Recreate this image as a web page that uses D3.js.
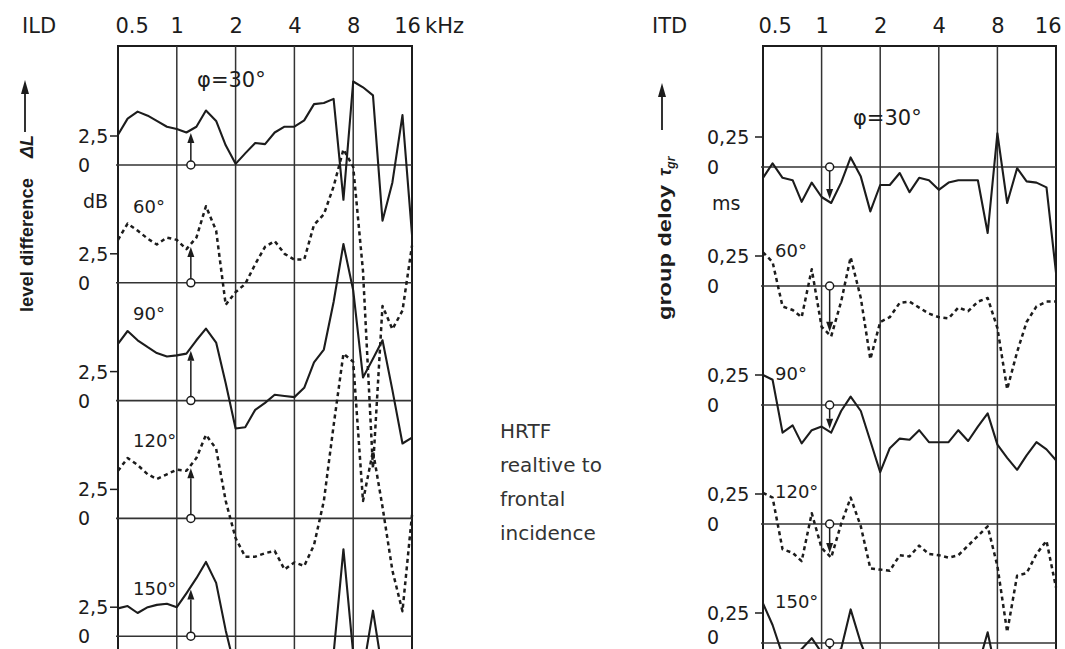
<!doctype html>
<html>
<head>
<meta charset="utf-8">
<script src="https://d3js.org/d3.v7.min.js"></script>
<style>
  body { margin: 0; background: #fff; }
  text { font-family: "DejaVu Sans", "Liberation Sans", Arial, sans-serif; fill: #1c1c1c; }
  text.rot { font-family: "Liberation Sans", Arial, sans-serif; }
</style>
</head>
<body>
<svg id="chart" width="1065" height="649"></svg>
<script>
// 1/6-octave measurement frequencies (kHz)
var freqs = [0.5, 0.56, 0.63, 0.71, 0.79, 0.89, 1.0, 1.12, 1.26, 1.41, 1.59, 1.78, 2.0, 2.24, 2.52, 2.83,
             3.17, 3.56, 4.0, 4.49, 5.04, 5.66, 6.35, 7.13, 8.0, 8.98, 10.1, 11.3, 12.7, 14.3, 16.0];
var octaveTicks = [0.5, 1, 2, 4, 8, 16];
var angles = ["30°", "60°", "90°", "120°", "150°"];

// ILD, dB
var ild30  = [2.6, 4.0, 4.6, 4.25, 3.8, 3.3, 3.1, 2.8, 3.3, 4.7, 3.8, 1.7, 0.1, 1.0, 1.9, 1.8, 2.8, 3.3, 3.3, 3.85, 5.25, 5.35, 5.7, -3.0, 7.2, 6.7, 6.0, -4.8, -1.5, 4.3, -6.0];
var ild60  = [3.7, 5.1, 4.5, 3.8, 3.3, 3.9, 3.7, 2.9, 3.9, 6.6, 4.5, -1.9, -0.8, -0.1, 1.6, 3.1, 3.6, 2.5, 2.0, 2.0, 5.0, 5.9, 8.3, 11.5, 10.0, 1.0, -16.0, -2.0, -4.0, -2.4, 3.2];
var ild90  = [4.9, 6.0, 5.2, 4.6, 4.1, 3.8, 3.9, 4.05, 5.2, 6.2, 5.0, 1.5, -2.4, -2.3, -0.8, -0.2, 0.5, 0.4, 0.3, 1.1, 3.3, 4.4, 8.5, 13.5, 9.5, 2.0, 3.6, 5.2, 0.9, -3.7, -3.2];
var ild120 = [4.1, 5.2, 4.6, 3.8, 3.4, 3.8, 4.2, 4.1, 5.2, 7.2, 6.0, 1.5, -1.7, -3.3, -3.3, -3.0, -2.8, -4.4, -3.8, -4.1, -2.3, 1.5, 8.0, 14.2, 13.5, 1.5, 5.8, 1.0, -4.5, -8.0, 0.3];
var ild150 = [2.4, 2.6, 2.0, 2.5, 2.7, 2.8, 2.5, 3.7, 5.0, 6.4, 4.6, 0.5, -3.0, -5.0, -5.0, -5.0, -5.0, -5.0, -5.0, -5.0, -5.0, -4.0, -1.5, 7.5, -1.5, -3.0, 2.2, -3.0, -4.0, -4.0, -3.0];

// ITD (group delay), ms
var itd30  = [-0.09, 0.03, -0.09, -0.11, -0.29, -0.13, -0.25, -0.30, -0.13, 0.08, -0.08, -0.37, -0.15, -0.15, -0.05, -0.21, -0.09, -0.11, -0.19, -0.13, -0.11, -0.11, -0.11, -0.55, 0.28, -0.30, -0.01, -0.12, -0.13, -0.17, -0.88];
var itd60  = [0.28, 0.20, -0.17, -0.20, -0.26, 0.14, -0.34, -0.42, -0.13, 0.24, -0.10, -0.61, -0.30, -0.26, -0.14, -0.13, -0.18, -0.23, -0.26, -0.27, -0.18, -0.21, -0.13, -0.10, -0.35, -0.86, -0.55, -0.30, -0.17, -0.13, -0.13];
var itd90  = [0.25, 0.21, -0.23, -0.17, -0.32, -0.21, -0.18, -0.23, -0.05, 0.07, -0.05, -0.30, -0.56, -0.36, -0.28, -0.29, -0.21, -0.31, -0.31, -0.31, -0.21, -0.30, -0.18, -0.07, -0.33, -0.44, -0.54, -0.42, -0.31, -0.37, -0.46];
var itd120 = [0.26, 0.22, -0.21, -0.24, -0.31, 0.09, -0.20, -0.28, 0.0, 0.22, -0.02, -0.37, -0.38, -0.39, -0.26, -0.27, -0.18, -0.25, -0.26, -0.28, -0.26, -0.18, -0.10, -0.02, -0.35, -0.90, -0.43, -0.41, -0.25, -0.14, -0.53];
var itd150 = [0.33, 0.15, -0.10, -0.10, -0.05, 0.04, -0.08, -0.10, -0.05, 0.28, 0.0, -0.20, -0.30, -0.30, -0.30, -0.30, -0.30, -0.30, -0.30, -0.30, -0.30, -0.30, -0.20, 0.09, -0.30, -0.60, -0.40, -0.30, -0.30, -0.30, -0.30];

var dottedRows = [false, true, false, true, false];
var ildMarkFreq = 1.18, itdMarkFreq = 1.1;
var noteLines = ["HRTF", "realtive to", "frontal", "incidence"];

var svg = d3.select("#chart");
var ink = "#1c1c1c";

svg.append("rect").attr("width", 1065).attr("height", 649).attr("fill", "#fff");

function valueAt(vals, f) {
    var i = d3.bisectRight(freqs, f);
    var f0 = freqs[i - 1], f1 = freqs[i];
    var t = Math.log(f / f0) / Math.log(f1 / f0);
    return vals[i - 1] * (1 - t) + vals[i] * t;
}

function drawPanel(p) {
    var x = d3.scaleLog().base(2).domain([0.5, 16]).range([p.left, p.right]);
    var g = svg.append("g");

    // top frequency axis
    var ax = g.append("g")
        .attr("transform", "translate(0,33)")
        .call(d3.axisTop(x).tickValues(octaveTicks).tickSize(0).tickPadding(0)
            .tickFormat(function(d) { return d < 1 ? "0.5" : d; }));
    ax.select(".domain").remove();
    ax.attr("font-size", 21).attr("font-family", null);
    ax.selectAll("text").attr("fill", ink);
    ax.selectAll(".tick").filter(function(d) { return d === 0.5; }).select("text")
        .attr("text-anchor", "start").attr("dx", p.firstDx);
    ax.selectAll(".tick").filter(function(d) { return d === 16; }).select("text")
        .attr("text-anchor", p.lastAnchor).attr("dx", p.lastDx);

    g.append("text").attr("x", p.titleX).attr("y", 33).attr("font-size", 21).text(p.title);
    if (p.unitTop) {
        g.append("text").attr("x", p.right + 13).attr("y", 33).attr("font-size", 21).text(p.unitTop);
    }

    // frame and octave grid
    g.append("rect")
        .attr("x", p.left).attr("y", p.top)
        .attr("width", p.right - p.left).attr("height", 700)
        .attr("fill", "none").attr("stroke", ink).attr("stroke-width", 2);
    g.selectAll(".vgrid").data(octaveTicks.slice(1, -1)).enter().append("line")
        .attr("x1", function(d) { return x(d); }).attr("x2", function(d) { return x(d); })
        .attr("y1", p.top).attr("y2", 700)
        .attr("stroke", "#333").attr("stroke-width", 1.5);

    p.series.forEach(function(vals, k) {
        var zero = p.zero0 + k * p.step;
        var y = d3.scaleLinear().domain([0, p.unit]).range([zero, zero - p.unitPx]);

        g.append("line")
            .attr("x1", p.left - 2).attr("x2", p.right)
            .attr("y1", y(0)).attr("y2", y(0))
            .attr("stroke", "#333").attr("stroke-width", 1.6);
        g.append("line")
            .attr("x1", p.left - 8).attr("x2", p.left)
            .attr("y1", y(p.unit)).attr("y2", y(p.unit))
            .attr("stroke", ink).attr("stroke-width", 1.5);
        g.append("text").attr("x", p.left + p.tickDx).attr("y", y(p.unit) + 7)
            .attr("font-size", 19).text(p.unitLabel);
        g.append("text").attr("x", p.left + p.tickDx).attr("y", Math.min(y(0) + 7, 644))
            .attr("font-size", 19).text("0");

        // angle labels
        if (k === 0) {
            g.append("text").attr("x", x(p.phiFreq)).attr("y", zero - p.phiDy)
                .attr("font-size", 21).text("φ=" + angles[0]);
            g.append("text").attr("x", p.left + p.tickDx + 5).attr("y", zero + 43)
                .attr("font-size", 19).text(p.unitName);
        } else {
            var ly = p.labelAbove ? y(d3.max(vals.slice(0, 3))) - 11 : y(vals[0]) + 5;
            g.append("text").attr("x", p.left + p.labelDx).attr("y", ly)
                .attr("font-size", 18).text(angles[k]);
        }

        var line = d3.line()
            .x(function(d, i) { return x(freqs[i]); })
            .y(function(d) { return y(d); });
        g.append("path").datum(vals)
            .attr("d", line)
            .attr("fill", "none")
            .attr("stroke", ink)
            .attr("stroke-width", dottedRows[k] ? 2.5 : 2.1)
            .attr("stroke-linejoin", "round")
            .attr("stroke-dasharray", dottedRows[k] ? "4,3.5" : null);

        // reference arrow at the marker frequency
        var cx = x(p.markFreq);
        var vy = y(valueAt(vals, p.markFreq));
        var dir = vy < zero ? 1 : -1;
        var tip = vy + dir * 3;
        var base = tip + dir * 10;
        g.append("line")
            .attr("x1", cx).attr("x2", cx)
            .attr("y1", zero - dir * 4).attr("y2", base)
            .attr("stroke", ink).attr("stroke-width", 1.5);
        g.append("path")
            .attr("d", "M" + cx + "," + tip + "L" + (cx - 3.5) + "," + base + "L" + (cx + 3.5) + "," + base + "Z")
            .attr("fill", ink);
        g.append("circle").attr("cx", cx).attr("cy", zero).attr("r", 4)
            .attr("fill", "#fff").attr("stroke", ink).attr("stroke-width", 1.5);
    });
}

drawPanel({
    left: 118, right: 412, top: 46, zero0: 165, step: 117.8,
    unit: 2.5, unitPx: 29, unitLabel: "2,5", unitName: "dB", tickDx: -40,
    series: [ild30, ild60, ild90, ild120, ild150],
    markFreq: ildMarkFreq, phiFreq: 1.27, phiDy: 78, labelAbove: true, labelDx: 15,
    title: "ILD", titleX: 22, unitTop: "kHz", firstDx: -3, lastAnchor: "middle", lastDx: -5
});

drawPanel({
    left: 763, right: 1056, top: 46, zero0: 167, step: 119,
    unit: 0.25, unitPx: 30, unitLabel: "0,25", unitName: "ms", tickDx: -56,
    series: [itd30, itd60, itd90, itd120, itd150],
    markFreq: itdMarkFreq, phiFreq: 1.45, phiDy: 42, labelAbove: false, labelDx: 12,
    title: "ITD", titleX: 652, unitTop: null, firstDx: -5, lastAnchor: "end", lastDx: 5
});

// rotated axis titles with arrows
function upArrow(cx, y0, y1) {
    svg.append("line").attr("x1", cx).attr("x2", cx).attr("y1", y0).attr("y2", y1 + 12)
        .attr("stroke", ink).attr("stroke-width", 1.8);
    svg.append("path")
        .attr("d", "M" + cx + "," + y1 + "L" + (cx - 4) + "," + (y1 + 14) + "L" + (cx + 4) + "," + (y1 + 14) + "Z")
        .attr("fill", ink);
}

svg.append("text").attr("class", "rot").attr("transform", "translate(33,312) rotate(-90)")
    .attr("font-size", 18).attr("font-weight", "bold")
    .attr("textLength", 134).attr("lengthAdjust", "spacingAndGlyphs")
    .text("level difference");
svg.append("text").attr("class", "rot").attr("transform", "translate(33,158) rotate(-90)")
    .attr("font-size", 18).attr("font-weight", "bold").attr("font-style", "italic")
    .text("ΔL");
upArrow(25, 132, 80);

svg.append("text").attr("class", "rot").attr("transform", "translate(671,320) rotate(-90)")
    .attr("font-size", 18).attr("font-weight", "bold")
    .attr("textLength", 135).attr("lengthAdjust", "spacingAndGlyphs")
    .text("group deloy");
var tau = svg.append("text").attr("class", "rot").attr("transform", "translate(671,176) rotate(-90)")
    .attr("font-size", 18).attr("font-weight", "bold").attr("font-style", "italic");
tau.append("tspan").text("τ");
tau.append("tspan").attr("font-size", 12).attr("dy", 4).text("gr");
upArrow(662, 130, 83);

// centre note
svg.selectAll(".note").data(noteLines).enter().append("text")
    .attr("x", 500)
    .attr("y", function(d, i) { return 438 + i * 34; })
    .attr("font-size", 20)
    .style("fill", "#333")
    .text(function(d) { return d; });
</script>
</body>
</html>
